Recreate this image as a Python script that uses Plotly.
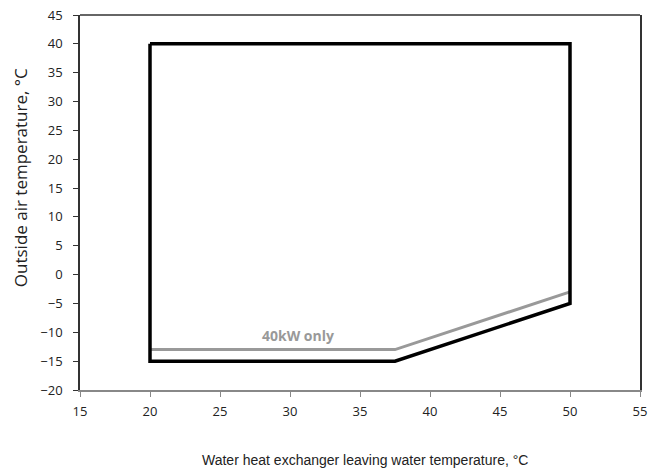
import plotly.graph_objects as go

# Operating envelope (black)
env_x = [20, 50, 50, 37.5, 20, 20]
env_y = [40, 40, -5, -15, -15, 40]
# 40kW only limit (gray)
lim_x = [20, 37.5, 50]
lim_y = [-13, -13, -3]

x_ticks = [15, 20, 25, 30, 35, 40, 45, 50, 55]
y_ticks = [-20, -15, -10, -5, 0, 5, 10, 15, 20, 25, 30, 35, 40, 45]

tick_font = dict(family="Open Sans, Liberation Sans, sans-serif", size=13, color="#222")

fig = go.Figure()
fig.add_trace(go.Scatter(x=lim_x, y=lim_y, mode="lines",
                         line=dict(color="#999999", width=3), hoverinfo="skip"))
fig.add_trace(go.Scatter(x=env_x, y=env_y, mode="lines",
                         line=dict(color="#000000", width=3.5), hoverinfo="skip"))

fig.add_annotation(x=30.6, y=-10.6, text="<b>40kW only</b>", showarrow=False,
                   font=dict(family="Open Sans, Liberation Sans, sans-serif", size=14, color="#999999"))

fig.update_layout(
    width=660, height=475,
    margin=dict(l=72, r=28, t=7, b=93),
    paper_bgcolor="white", plot_bgcolor="white",
    showlegend=False,
    xaxis=dict(range=[15, 55], tickvals=x_ticks, showgrid=False, zeroline=False,
               showline=True, linecolor="#888888", linewidth=1.5, automargin=False,
               ticks="outside", ticklen=5, tickcolor="#888888", ticklabelstandoff=4,
               ticklabeloverflow="allow", tickfont=tick_font),
    yaxis=dict(range=[-20, 45], tickvals=y_ticks, showgrid=False, zeroline=False,
               showline=True, linecolor="#333333", linewidth=1.5, mirror=True, automargin=False,
               ticks="outside", ticklen=5, tickcolor="#333333", ticklabelstandoff=8,
               ticklabeloverflow="allow", tickfont=tick_font),
    shapes=[dict(type="line", xref="paper", yref="paper", x0=0, x1=1, y0=1, y1=1,
                 line=dict(color="#333333", width=1.5))],
)

fig.add_annotation(xref="paper", yref="paper", x=0.509, y=-0.187, yanchor="middle",
                   text="Water heat exchanger leaving water temperature, °C", showarrow=False,
                   font=dict(family="Liberation Sans, Arial, sans-serif", size=14, color="#222"))
fig.add_annotation(xref="paper", yref="paper", x=-0.107, y=0.565, xanchor="center", yanchor="middle",
                   text="Outside air temperature, °C", showarrow=False, textangle=-90,
                   font=dict(family="Open Sans, Liberation Sans, sans-serif", size=17, color="#222"))

fig.write_html("out.html")
